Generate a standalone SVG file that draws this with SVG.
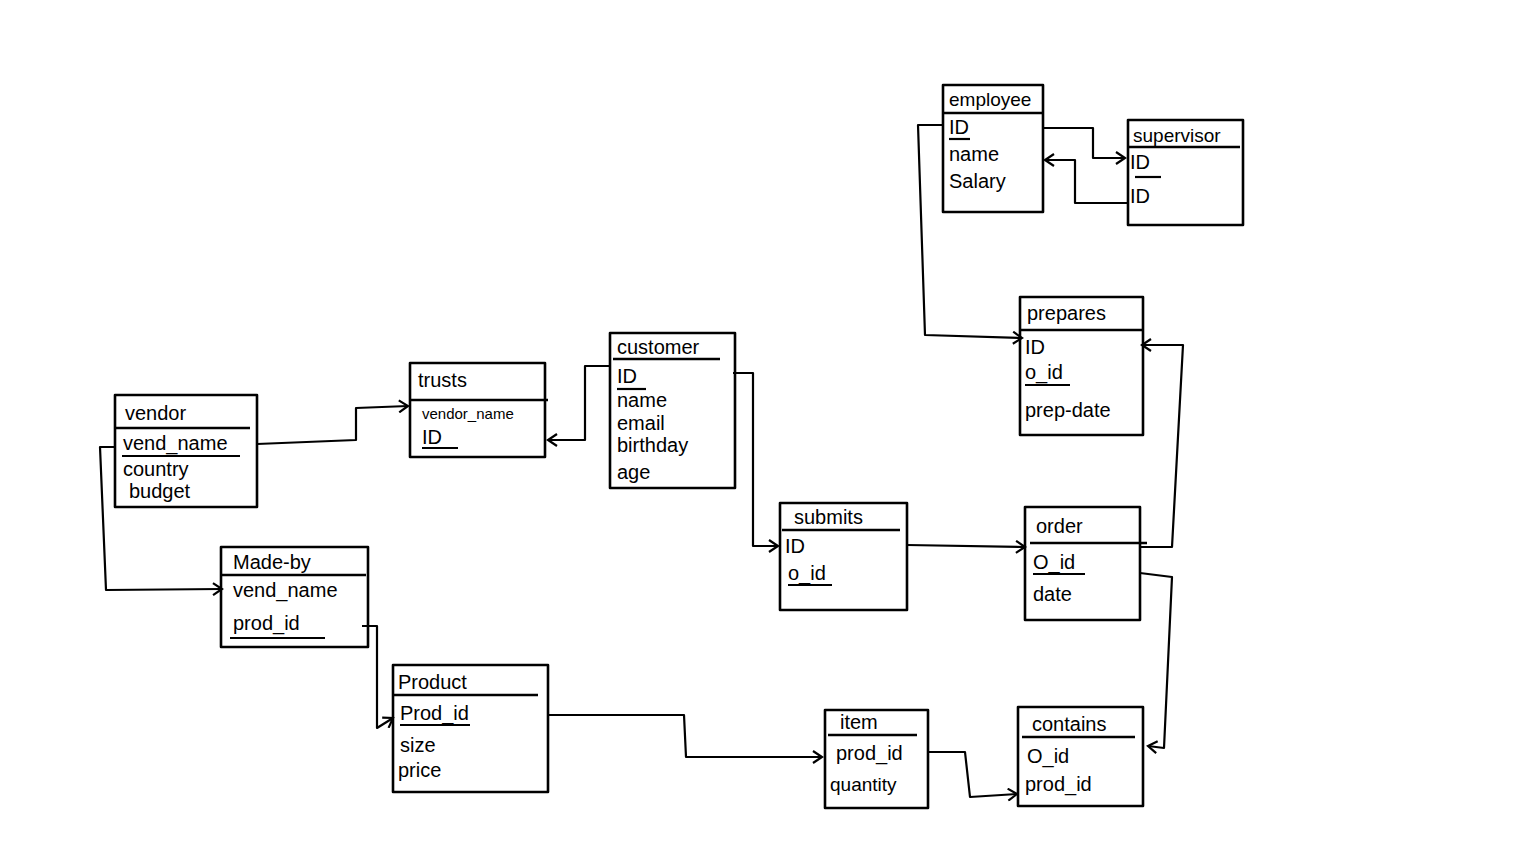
<svg xmlns="http://www.w3.org/2000/svg" width="1536" height="844" viewBox="0 0 1536 844">
<style>
.box{fill:none;stroke:#000;stroke-width:2.6;stroke-linejoin:round}
.sep{stroke:#000;stroke-width:2.4}
.ul{stroke:#000;stroke-width:2.2}
.t{font-family:"Liberation Sans",Arial,sans-serif;font-size:20px;fill:#000}
.s{font-family:"Liberation Sans",Arial,sans-serif;font-size:15px;fill:#000}
.c{fill:none;stroke:#000;stroke-width:2.2;stroke-linejoin:round}
</style>
<defs>
<marker id="arr" markerWidth="14" markerHeight="14" refX="11" refY="7" orient="auto" markerUnits="userSpaceOnUse">
<path d="M2,1 L11,7 L2,13" fill="none" stroke="#000" stroke-width="2.2"/>
</marker>
</defs>
<rect width="1536" height="844" fill="#fff"/>

<g id="connectors">
<path class="c" d="M1043,128 L1093,128 L1093,158 L1125,158" marker-end="url(#arr)"/>
<path class="c" d="M1128,203 L1075,203 L1075,160 L1045,160" marker-end="url(#arr)"/>
<path class="c" d="M943,125 L918,125 L925,335 L1022,338" marker-end="url(#arr)"/>
<path class="c" d="M1140,547 L1172,547 L1183,345 L1142,345" marker-end="url(#arr)"/>
<path class="c" d="M610,366 L585,366 L585,440 L548,440" marker-end="url(#arr)"/>
<path class="c" d="M733,373 L753,373 L753,546 L778,546" marker-end="url(#arr)"/>
<path class="c" d="M257,444 L356,440 L356,408 L408,406" marker-end="url(#arr)"/>
<path class="c" d="M115,447 L100,447 L106,590 L222,589" marker-end="url(#arr)"/>
<path class="c" d="M362,626 L377,626 L377,728 L393,718" marker-end="url(#arr)"/>
<path class="c" d="M548,715 L684,715 L686,757 L822,757" marker-end="url(#arr)"/>
<path class="c" d="M907,545 L1025,547" marker-end="url(#arr)"/>
<path class="c" d="M1140,573 L1172,577 L1164,748 L1148,746" marker-end="url(#arr)"/>
<path class="c" d="M928,752 L965,752 L970,797 L1017,794" marker-end="url(#arr)"/>
</g>

<g id="employee">
<rect class="box" x="943" y="85" width="100" height="127"/>
<line class="sep" x1="943" y1="113" x2="1043" y2="113"/>
<text class="t" x="949" y="106" style="font-size:19px">employee</text>
<text class="t" x="949" y="134">ID</text><line class="ul" x1="949" y1="139" x2="970" y2="139"/>
<text class="t" x="949" y="161">name</text>
<text class="t" x="949" y="188">Salary</text>
</g>

<g id="supervisor">
<rect class="box" x="1128" y="120" width="115" height="105"/>
<line class="sep" x1="1128" y1="147" x2="1240" y2="147"/>
<text class="t" x="1133" y="142" style="font-size:19px">supervisor</text>
<text class="t" x="1130" y="169">ID</text><line class="ul" x1="1135" y1="177" x2="1161" y2="177"/>
<text class="t" x="1130" y="203">ID</text>
</g>

<g id="prepares">
<rect class="box" x="1020" y="297" width="123" height="138"/>
<line class="sep" x1="1020" y1="330" x2="1143" y2="330"/>
<text class="t" x="1027" y="320">prepares</text>
<text class="t" x="1025" y="354">ID</text>
<text class="t" x="1025" y="379">o_id</text><line class="ul" x1="1025" y1="385" x2="1070" y2="385"/>
<text class="t" x="1025" y="417">prep-date</text>
</g>

<g id="customer">
<rect class="box" x="610" y="333" width="125" height="155"/>
<line class="sep" x1="613" y1="359" x2="720" y2="359"/>
<text class="t" x="617" y="354">customer</text>
<text class="t" x="617" y="383">ID</text><line class="ul" x1="617" y1="389" x2="646" y2="389"/>
<text class="t" x="617" y="407">name</text>
<text class="t" x="617" y="430">email</text>
<text class="t" x="617" y="452">birthday</text>
<text class="t" x="617" y="479">age</text>
</g>

<g id="trusts">
<rect class="box" x="410" y="363" width="135" height="94"/>
<line class="sep" x1="410" y1="400" x2="548" y2="400"/>
<text class="t" x="418" y="387">trusts</text>
<text class="s" x="422" y="419">vendor_name</text>
<text class="t" x="422" y="444">ID</text><line class="ul" x1="422" y1="448" x2="458" y2="448"/>
</g>

<g id="vendor">
<rect class="box" x="115" y="395" width="142" height="112"/>
<line class="sep" x1="115" y1="428" x2="250" y2="428"/>
<text class="t" x="125" y="420">vendor</text>
<text class="t" x="123" y="450">vend_name</text><line class="ul" x1="122" y1="456" x2="240" y2="456"/>
<text class="t" x="123" y="476">country</text>
<text class="t" x="129" y="498">budget</text>
</g>

<g id="made_by">
<rect class="box" x="221" y="547" width="147" height="100"/>
<line class="sep" x1="221" y1="575" x2="366" y2="575"/>
<text class="t" x="233" y="569">Made-by</text>
<text class="t" x="233" y="597">vend_name</text>
<text class="t" x="233" y="630">prod_id</text><line class="ul" x1="230" y1="638" x2="325" y2="638"/>
</g>

<g id="product">
<rect class="box" x="393" y="665" width="155" height="127"/>
<line class="sep" x1="393" y1="695" x2="538" y2="695"/>
<text class="t" x="398" y="689">Product</text>
<text class="t" x="400" y="720">Prod_id</text><line class="ul" x1="400" y1="725" x2="470" y2="725"/>
<text class="t" x="400" y="752">size</text>
<text class="t" x="398" y="777">price</text>
</g>

<g id="submits">
<rect class="box" x="780" y="503" width="127" height="107"/>
<line class="sep" x1="782" y1="530" x2="900" y2="530"/>
<text class="t" x="794" y="524">submits</text>
<text class="t" x="785" y="553">ID</text>
<text class="t" x="788" y="580">o_id</text><line class="ul" x1="788" y1="585" x2="832" y2="585"/>
</g>

<g id="order">
<rect class="box" x="1025" y="507" width="115" height="113"/>
<line class="sep" x1="1030" y1="543" x2="1147" y2="543"/>
<text class="t" x="1036" y="533">order</text>
<text class="t" x="1033" y="569">O_id</text><line class="ul" x1="1033" y1="574" x2="1085" y2="574"/>
<text class="t" x="1033" y="601">date</text>
</g>

<g id="item">
<rect class="box" x="825" y="710" width="103" height="98"/>
<line class="sep" x1="828" y1="735" x2="917" y2="735"/>
<text class="t" x="840" y="729">item</text>
<text class="t" x="836" y="760">prod_id</text>
<text class="t" x="830" y="791" style="font-size:19px">quantity</text>
</g>

<g id="contains">
<rect class="box" x="1018" y="707" width="125" height="99"/>
<line class="sep" x1="1022" y1="737" x2="1135" y2="737"/>
<text class="t" x="1032" y="731">contains</text>
<text class="t" x="1027" y="763">O_id</text>
<text class="t" x="1025" y="791">prod_id</text>
</g>
</svg>
